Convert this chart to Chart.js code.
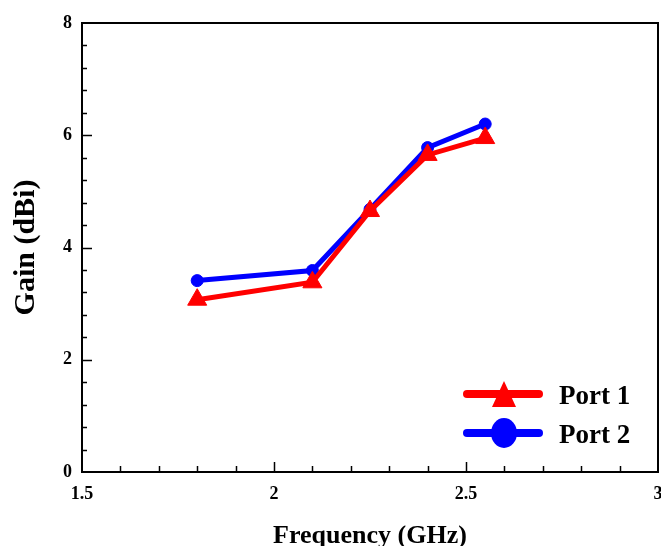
<!DOCTYPE html>
<html><head><meta charset="utf-8">
<script src="https://cdn.jsdelivr.net/npm/chart.js@4/dist/chart.umd.min.js"></script>
<style>html,body{margin:0;padding:0;background:#fff}#wrap{width:661px;height:546px;position:relative}</style>
</head><body><div id="wrap"><canvas id="c"></canvas></div>
<script>
const frequencies = [1.8, 2.1, 2.25, 2.4, 2.55];
const port1Gain = [3.07, 3.38, 4.65, 5.65, 5.95];
const port2Gain = [3.41, 3.59, 4.68, 5.78, 6.20];
const seriesLabels = ['Port 1', 'Port 2'];
const xRange = [1.5, 3];
const yRange = [0, 8];
const xMajorStep = 0.5, xMinorStep = 0.1;
const yMajorStep = 2, yMinorStep = 0.4;

const FONT = "'Liberation Serif', 'Times New Roman', serif";
const RED = '#ff0000', BLUE = '#0000ff';

const toPoints = (xs, ys) => xs.map((x, i) => ({x, y: ys[i]}));

const frameAndTicks = {
  id: 'frameAndTicks',
  afterDraw(chart) {
    const {ctx, chartArea: {left, right, top, bottom}, scales: {x, y}} = chart;
    ctx.save();
    ctx.strokeStyle = '#000';
    ctx.lineWidth = 1.5;
    ctx.beginPath();
    const nx = Math.round((xRange[1] - xRange[0]) / xMinorStep);
    for (let i = 1; i < nx; i++) {
      const v = xRange[0] + i * xMinorStep;
      const major = Math.abs(v / xMajorStep - Math.round(v / xMajorStep)) < 1e-6;
      const px = Math.round(x.getPixelForValue(v)) + 0.5;
      ctx.moveTo(px, bottom);
      ctx.lineTo(px, bottom - (major ? 10 : 6));
    }
    const ny = Math.round((yRange[1] - yRange[0]) / yMinorStep);
    for (let i = 1; i < ny; i++) {
      const v = yRange[0] + i * yMinorStep;
      const major = Math.abs(v / yMajorStep - Math.round(v / yMajorStep)) < 1e-6;
      const py = Math.round(y.getPixelForValue(v)) + 0.5;
      ctx.moveTo(left, py);
      ctx.lineTo(left + (major ? 10 : 5), py);
    }
    ctx.stroke();
    ctx.lineWidth = 2;
    ctx.strokeRect(left, top, right - left, bottom - top);
    ctx.restore();
  }
};

const customLegend = {
  id: 'customLegend',
  afterDraw(chart) {
    const {ctx, chartArea: {right, bottom}} = chart;
    const ds = chart.data.datasets;
    ctx.save();
    const rows = [bottom - 78, bottom - 39];
    ds.forEach((d, i) => {
      const cy = rows[i];
      const x0 = right - 191, x1 = right - 119, cx = right - 154;
      ctx.strokeStyle = d.borderColor;
      ctx.fillStyle = d.borderColor;
      ctx.lineWidth = 8;
      ctx.lineCap = 'round';
      ctx.beginPath();
      ctx.moveTo(x0, cy); ctx.lineTo(x1, cy);
      ctx.stroke();
      ctx.beginPath();
      if (d.pointStyle === 'triangle') {
        ctx.moveTo(cx, cy - 13);
        ctx.lineTo(cx + 12, cy + 13);
        ctx.lineTo(cx - 12, cy + 13);
        ctx.closePath();
      } else {
        ctx.ellipse(cx, cy, 13, 15, 0, 0, Math.PI * 2);
      }
      ctx.fill();
      ctx.fillStyle = '#000';
      ctx.font = "bold 27px " + FONT;
      ctx.textBaseline = 'alphabetic';
      ctx.textAlign = 'left';
      ctx.fillText(d.label, right - 99, cy + 10);
    });
    ctx.restore();
  }
};

new Chart(document.getElementById('c'), {
  type: 'line',
  data: {
    datasets: [
      {
        label: seriesLabels[0],
        data: toPoints(frequencies, port1Gain),
        borderColor: RED, backgroundColor: RED,
        borderWidth: 5, pointStyle: 'triangle', pointRadius: 11,
        pointBorderWidth: 1, pointBorderColor: RED, pointBackgroundColor: RED,
        tension: 0, fill: false
      },
      {
        label: seriesLabels[1],
        data: toPoints(frequencies, port2Gain),
        borderColor: BLUE, backgroundColor: BLUE,
        borderWidth: 5, pointStyle: 'circle', pointRadius: 6,
        pointBorderWidth: 1, pointBorderColor: BLUE, pointBackgroundColor: BLUE,
        tension: 0, fill: false
      }
    ]
  },
  options: {
    responsive: true,
    maintainAspectRatio: false,
    animation: false,
    layout: {autoPadding: false, padding: {top: 23, right: 3, left: 0, bottom: 0}},
    plugins: {legend: {display: false}, tooltip: {enabled: false}},
    scales: {
      x: {
        type: 'linear', min: xRange[0], max: xRange[1],
        grid: {display: false, drawTicks: false},
        border: {display: false},
        ticks: {stepSize: xMajorStep, padding: 12, color: '#000', maxRotation: 0,
                callback: v => String(v),
                font: {family: FONT, size: 18, weight: 'bold'}},
        title: {display: true, text: 'Frequency (GHz)', color: '#000',
                font: {family: FONT, size: 26, weight: 'bold', lineHeight: 0.7},
                padding: {top: 0, bottom: 1}},
        afterFit(s) { s.height = 74; s.paddingRight = 0; s.paddingLeft = 0; }
      },
      y: {
        type: 'linear', min: yRange[0], max: yRange[1],
        grid: {display: false, drawTicks: false},
        border: {display: false},
        ticks: {stepSize: yMajorStep, padding: 10, color: '#000',
                font: {family: FONT, size: 18, weight: 'bold'}},
        title: {display: true, text: 'Gain (dBi)', color: '#000',
                font: {family: FONT, size: 30, weight: 'bold'},
                padding: {top: 8, bottom: 0}},
        afterFit(s) { s.width = 82; }
      }
    }
  },
  plugins: [frameAndTicks, customLegend]
});
</script></body></html>
